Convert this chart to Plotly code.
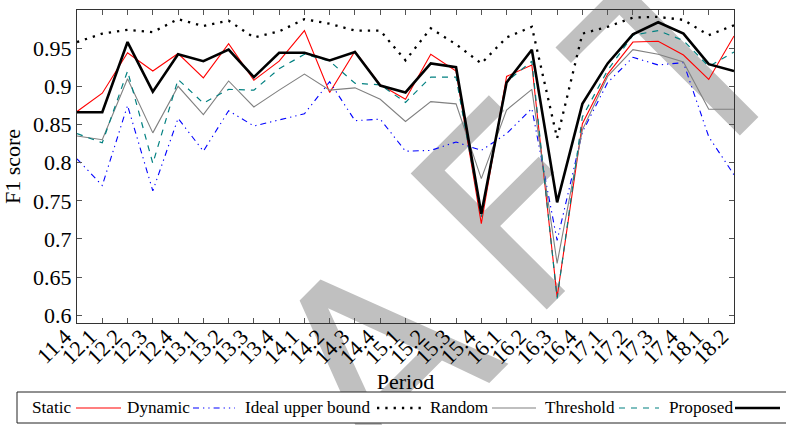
import plotly.graph_objects as go

# ---- data -------------------------------------------------------------
periods = ["11.4", "12.1", "12.2", "12.3", "12.4", "13.1", "13.2", "13.3", "13.4",
           "14.1", "14.2", "14.3", "14.4", "15.1", "15.2", "15.3", "15.4", "16.1",
           "16.2", "16.3", "16.4", "17.1", "17.2", "17.3", "17.4", "18.1", "18.2"]

static = [0.867, 0.891, 0.944, 0.920, 0.943, 0.911, 0.956, 0.908, 0.933, 0.973,
          0.892, 0.946, 0.902, 0.883, 0.942, 0.920, 0.720, 0.913, 0.928, 0.624,
          0.851, 0.916, 0.958, 0.959, 0.941, 0.909, 0.966]

dynamic = [0.805, 0.770, 0.875, 0.763, 0.858, 0.815, 0.868, 0.848, 0.856, 0.864,
           0.906, 0.855, 0.857, 0.815, 0.816, 0.827, 0.816, 0.838, 0.871, 0.698,
           0.840, 0.905, 0.938, 0.928, 0.931, 0.834, 0.784]

ideal_upper = [0.958, 0.969, 0.974, 0.971, 0.988, 0.979, 0.986, 0.964, 0.972, 0.988,
               0.982, 0.973, 0.973, 0.934, 0.976, 0.955, 0.930, 0.964, 0.978, 0.832,
               0.969, 0.978, 0.990, 0.991, 0.987, 0.967, 0.980]

random_sel = [0.835, 0.830, 0.910, 0.839, 0.900, 0.863, 0.907, 0.873, 0.895, 0.916,
              0.895, 0.898, 0.883, 0.854, 0.880, 0.877, 0.779, 0.869, 0.896, 0.668,
              0.843, 0.913, 0.948, 0.942, 0.932, 0.870, 0.870]

threshold = [0.838, 0.826, 0.920, 0.799, 0.909, 0.878, 0.896, 0.895, 0.923, 0.942,
             0.933, 0.904, 0.902, 0.879, 0.912, 0.912, 0.729, 0.906, 0.933, 0.622,
             0.860, 0.921, 0.967, 0.973, 0.960, 0.926, 0.945]

proposed = [0.866, 0.866, 0.958, 0.893, 0.942, 0.933, 0.948, 0.912, 0.944, 0.944,
            0.934, 0.945, 0.901, 0.892, 0.930, 0.925, 0.733, 0.905, 0.948, 0.748,
            0.877, 0.930, 0.968, 0.984, 0.969, 0.929, 0.920]

y_ticks = [0.6, 0.65, 0.7, 0.75, 0.8, 0.85, 0.9, 0.95, 1.0]
y_tick_labels = ["0.6", "0.65", "0.7", "0.75", "0.8", "0.85", "0.9", "0.95", "1"]

series_names = ["Static", "Dynamic", "Ideal upper bound", "Random", "Threshold", "Proposed"]
series_values = [static, dynamic, ideal_upper, random_sel, threshold, proposed]

# ---- styles -----------------------------------------------------------
SERIF = "Liberation Serif"
line_styles = [
    dict(color="#ff0000", width=1.1),
    dict(color="#0000ff", width=1.1, dash="6px,4px,1.3px,4px,1.3px,4px"),
    dict(color="#000000", width=2.3, dash="2.3px,6px"),
    dict(color="#808080", width=1.1),
    dict(color="#008080", width=1.2, dash="6px,6px"),
    dict(color="#000000", width=2.6),
]

W, H = 786, 425
ML, MR, MT, MB = 77, 52, 10, 102


def px_x(px):
    return (px - ML) / (W - ML - MR)


def px_y(py):
    return (H - MB - py) / (H - MT - MB)


fig = go.Figure()
for name, vals, style in zip(series_names, series_values, line_styles):
    fig.add_trace(go.Scatter(x=periods, y=vals, name=name, mode="lines",
                             line=style, showlegend=False))

shapes = []

# faint "DRAFT" watermark lettering sitting behind the plot
watermark_letters = ["A", "F", "T"]
watermark_centres = [(368, 348), (504, 196), (671, 48)]
for letter, (cx, cy) in zip(watermark_letters, watermark_centres):
    shapes.append(dict(
        type="rect", xref="paper", yref="paper", layer="below",
        x0=px_x(cx - 1), x1=px_x(cx + 1), y0=px_y(cy + 1), y1=px_y(cy - 1),
        line=dict(width=0), fillcolor="rgba(0,0,0,0)",
        label=dict(text=letter, textangle=-45, textposition="middle center",
                   xanchor="center", yanchor="middle",
                   font=dict(family="DejaVu Sans", size=264, color="#c0c0c0")),
    ))

# legend box below the axis: label first, then its line sample
legend_box = (17, 392, 800, 423)
legend_text_x = [30, 125, 243, 428, 543, 667]
legend_line_x = [(76, 121), (193, 235), (377, 423), (492, 536), (619, 659), (735, 780)]
legend_y = 408

shapes.append(dict(type="rect", xref="paper", yref="paper", layer="above",
                   x0=px_x(legend_box[0]), x1=px_x(legend_box[2]),
                   y0=px_y(legend_box[3]), y1=px_y(legend_box[1]),
                   line=dict(color="#222222", width=1), fillcolor="white"))

annotations = []
for name, tx, (lx0, lx1), style in zip(series_names, legend_text_x, legend_line_x, line_styles):
    annotations.append(dict(text=name, xref="paper", yref="paper",
                            x=px_x(tx), y=px_y(legend_y), xanchor="left", yanchor="middle",
                            showarrow=False, font=dict(family=SERIF, size=17.2, color="black")))
    shapes.append(dict(type="line", xref="paper", yref="paper", layer="above",
                       x0=px_x(lx0), x1=px_x(lx1), y0=px_y(legend_y), y1=px_y(legend_y),
                       line=style))

axis_common = dict(showline=True, linecolor="#333333", linewidth=1, mirror="allticks",
                   ticks="inside", ticklen=5, tickwidth=1, tickcolor="#555555",
                   showgrid=False, zeroline=False,
                   tickfont=dict(family=SERIF, size=22, color="black"))

fig.update_layout(
    width=W, height=H,
    margin=dict(l=ML, r=MR, t=MT, b=MB),
    paper_bgcolor="white", plot_bgcolor="white",
    font=dict(family=SERIF, color="black"),
    xaxis=dict(type="category", range=[0, len(periods) - 1], tickangle=-45,
               tickmode="linear", tick0=0, dtick=1,
               ticklabelstandoff=-9, ticklabelshift=-12,
               title=dict(text="Period", font=dict(family=SERIF, size=22), standoff=1),
               **axis_common),
    yaxis=dict(range=[0.5899, 1.0], tickvals=y_ticks, ticktext=y_tick_labels,
               title=dict(text="F1 score", font=dict(family=SERIF, size=22), standoff=6),
               **axis_common),
    shapes=shapes,
    annotations=annotations,
)

fig.write_html("out.html")
